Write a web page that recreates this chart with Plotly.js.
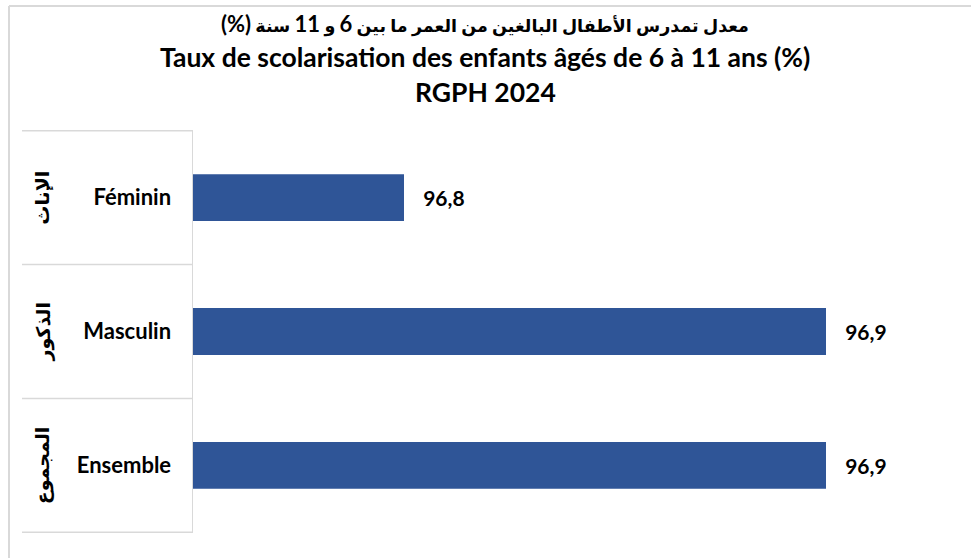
<!DOCTYPE html>
<html>
<head>
<meta charset="utf-8">
<script src="https://cdn.plot.ly/plotly-3.0.1.min.js"></script>
<style>html,body{margin:0;padding:0;background:#fff;}#chart{width:971px;height:558px;}</style>
</head>
<body>
<div id="chart"></div>
<script>
const categoriesFr = ['Féminin', 'Masculin', 'Ensemble'];
const categoriesAr = ['الإناث', 'الذكور', 'المجموع'];
const rates = [96.8, 96.9, 96.9];
const titleAr = 'معدل تمدرس الأطفال البالغين من العمر ما بين 6 و 11 سنة (%)';
const titleFr = 'Taux de scolarisation des enfants âgés de 6 à 11 ans (%)';
const titleSub = 'RGPH 2024';

const FONT = 'Lato, "DejaVu Sans", sans-serif';
const W = 971, H = 558, L = 193, R = 31, T = 130, B = 25;
const pw = W - L - R, ph = H - T - B;
const px = v => (v - L) / pw;
const py = v => (H - B - v) / ph;

const shapes = [];
// outer frame (left and top edges visible)
shapes.push({type:'line', xref:'paper', yref:'paper', x0:px(9), x1:px(9), y0:py(6), y1:-0.2, line:{color:'#d9d9d9', width:2}});
shapes.push({type:'line', xref:'paper', yref:'paper', x0:px(9), x1:1.2, y0:py(6), y1:py(6), line:{color:'#d9d9d9', width:2}});
// category dividers
for (let i = 0; i <= categoriesFr.length; i++) {
  shapes.push({type:'line', xref:'paper', yref:'y', x0:px(22), x1:0, y0:i - 0.5, y1:i - 0.5, line:{color:'#d9d9d9', width:1.5}});
}

const annotations = categoriesAr.map((t, i) => ({
  text: '<b>' + t + '</b>', xref:'paper', yref:'y', x: px(28), y: categoriesFr[i],
  textangle: -90, showarrow:false, font:{family:FONT, size:19, color:'#000'}
}));
// enlarge the Latin digits and (%) inside the Arabic title line
const arTitleHtml = '\u200F' + (titleAr + '\u200F').replace(/(\d+|\(%\)\u200F?)/g, '<span style="font-size:22px">$1</span>');
const titleLines = [arTitleHtml, titleFr, titleSub];
const titleY = [23, 57, 92];
const titleSize = [17.5, 26.5, 26.5];
titleLines.forEach((t, i) => annotations.push({
  text: '<b>' + t + '</b>', xref:'paper', yref:'paper', x: px(485), y: py(titleY[i]),
  xanchor:'center', yanchor:'middle', showarrow:false, font:{family:FONT, size:titleSize[i], color:'#000'}
}));

const trace = {
  type:'bar', orientation:'h', y: categoriesFr, x: rates,
  marker:{color:'#2F5597', line:{color:'#2F5597', width:0}},
  width: 0.35,
  texttemplate:'\u00A0\u00A0\u00A0<b>%{x:.1f}</b>', textposition:'outside', cliponaxis:false,
  textfont:{family:FONT, size:21, color:'#000'}, hoverinfo:'none'
};

const layout = {
  width:W, height:H, margin:{l:L, r:R, t:T, b:B},
  separators:', ',
  paper_bgcolor:'#fff', plot_bgcolor:'#fff',
  xaxis:{range:[96.75, 96.75 + pw/4220], showgrid:false, zeroline:false, showticklabels:false, showline:false, ticks:''},
  yaxis:{type:'category', categoryarray:categoriesFr, autorange:'reversed', showgrid:false, zeroline:false,
    showline:true, linecolor:'#d9d9d9', linewidth:1.5, ticks:'', ticklabelstandoff:16,
    tickvals:categoriesFr, ticktext:categoriesFr.map(c => '<b>' + c + '</b>'),
    tickfont:{family:FONT, size:22, color:'#000'}},
  shapes, annotations, showlegend:false
};

Plotly.newPlot('chart', [trace], layout, {displayModeBar:false, staticPlot:true});
</script>
</body>
</html>
